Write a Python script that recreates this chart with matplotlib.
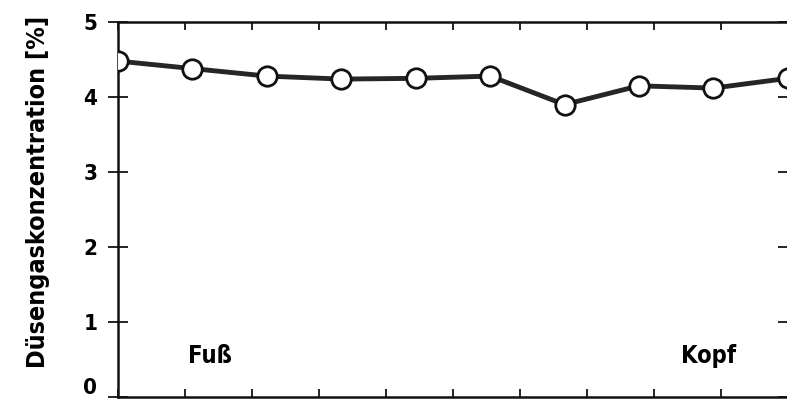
import matplotlib
matplotlib.use('Agg')
import matplotlib.pyplot as plt
import matplotlib.transforms as mtransforms
import numpy as np

# Messpositionen entlang der Probe (Fuß -> Kopf) und Düsengaskonzentration
positions = list(range(10))
concentration = [4.48, 4.38, 4.28, 4.24, 4.25, 4.28, 3.90, 4.15, 4.12, 4.25]
y_ticks = [0, 1, 2, 3, 4, 5]

plt.rcParams['font.family'] = ['DejaVu Sans']
plt.rcParams['font.stretch'] = 'condensed'
plt.rcParams['font.weight'] = 'bold'

fig = plt.figure(figsize=(7.87, 4.04), dpi=100)
ax = fig.add_axes([0.15, 0.0173, 0.851, 0.928])

ax.plot(positions, concentration, '-', color='#262626', linewidth=3.5,
        marker='o', markersize=14, markerfacecolor='white',
        markeredgecolor='#111111', markeredgewidth=2, clip_on=True, zorder=3)

ax.set_xlim(0, 9)
ax.set_ylim(0, 5)
ax.set_xticks(np.arange(0, 9.01, 0.9))
ax.set_xticklabels([])
ax.set_yticks(y_ticks)
ax.set_yticklabels([str(t) for t in y_ticks], fontsize=16, fontweight='bold')

ax.tick_params(axis='x', direction='in', length=6, width=1.2, top=True, bottom=True)
ax.tick_params(axis='y', direction='inout', length=14, width=1.2, pad=8, right=True)

# "0" sitzt im Original etwas höher
lbl0 = ax.get_yticklabels()[0]
lbl0.set_transform(lbl0.get_transform() +
                   mtransforms.ScaledTranslation(0, 8 / 72, fig.dpi_scale_trans))

for side in ['left', 'bottom', 'top', 'right']:
    ax.spines[side].set_linewidth(1.8)
    ax.spines[side].set_color('#111111')

ax.set_ylabel('Düsengaskonzentration [%]', fontsize=18, fontweight='bold')
ax.yaxis.set_label_coords(-0.102, 0.548)

ax.text(1.24, 0.55, 'Fuß', fontsize=17, fontweight='bold', ha='center', va='center')
ax.text(7.94, 0.55, 'Kopf', fontsize=17, fontweight='bold', ha='center', va='center')

fig.savefig('out.png', dpi=100)
